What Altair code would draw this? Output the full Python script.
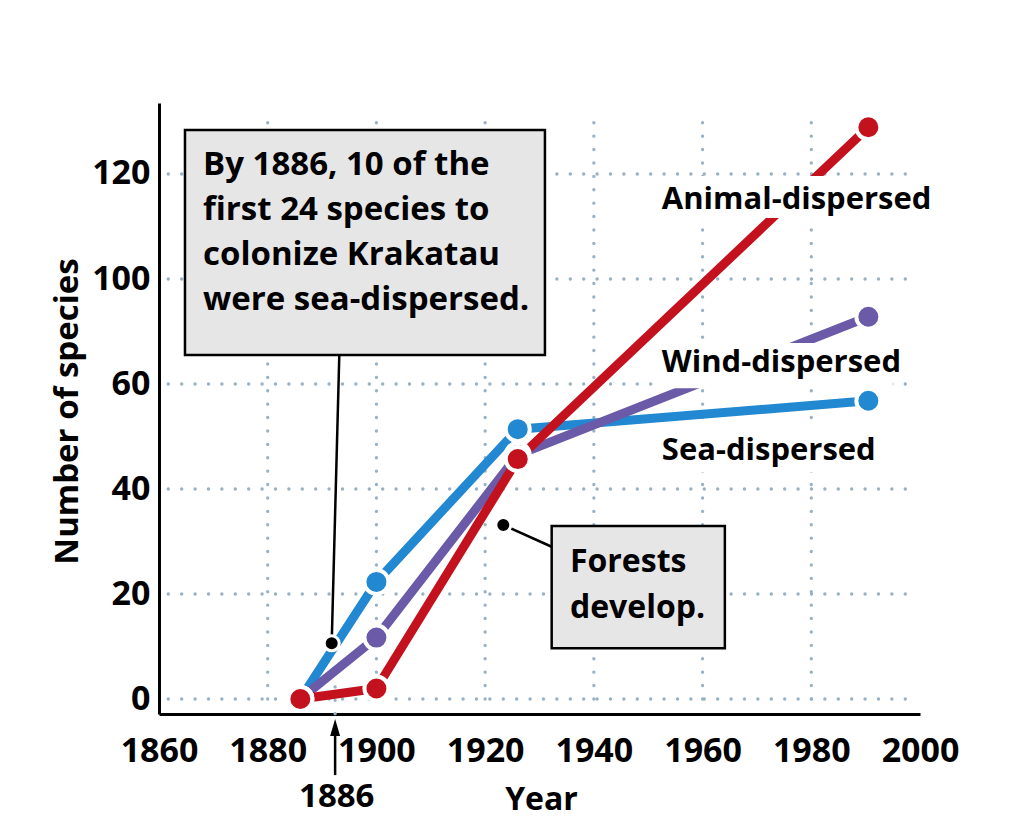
import altair as alt
import pandas as pd

# ---------------- data ----------------
years = [1886, 1900, 1926, 1990.5]
sea_dispersed = [0, 22.3, 51.4, 56.8]
wind_dispersed = [0, 11.7, 46.5, 85.6]
animal_dispersed = [0, 2.0, 45.7, 128.9]

series_names = ["Sea-dispersed", "Wind-dispersed", "Animal-dispersed"]
series_values = [sea_dispersed, wind_dispersed, animal_dispersed]
series_colors = ["#2188d1", "#6a5aa8", "#c3121e"]

x_ticks = [1860, 1880, 1900, 1920, 1940, 1960, 1980, 2000]
y_ticks = [0, 20, 40, 60, 100, 120]
grid_x = [1880, 1900, 1920, 1940, 1960, 1980]

box1_text = "By 1886, 10 of the\nfirst 24 species to\ncolonize Krakatau\nwere sea-dispersed."
box2_text = "Forests\ndevelop."
marker_label = "1886"

# ---------------- style ----------------
FONT = "Open Sans"
GRID = "#97b1c5"
W, H = 761, 611

rows = []
for name, vals in zip(series_names, series_values):
    for yr, v in zip(years, vals):
        rows.append({"x": yr, "y": v, "series": name})
df = pd.DataFrame(rows)

xscale = alt.Scale(domain=[1860, 2000], nice=False, zero=False)
yscale = alt.Scale(domain=[-2.857, 60, 100, 133.52], range=[H, 281, 176, 0],
                   nice=False, zero=False)

xaxis = alt.Axis(values=x_ticks, format="d", labelFont=FONT, labelFontSize=34,
                 labelFontWeight="bold", labelColor="black", labelPadding=47,
                 labelBaseline="alphabetic", ticks=False, tickSize=0,
                 domainColor="black", domainWidth=3, grid=False,
                 labelFlush=False, labelOverlap=False,
                 title="Year", titleFont=FONT, titleFontSize=32,
                 titleFontWeight="bold", titleColor="black",
                 titleX=382, titleY=95, titleAlign="center",
                 titleBaseline="alphabetic")
yaxis = alt.Axis(values=y_ticks, labelFont=FONT, labelFontSize=34,
                 labelFontWeight="bold", labelColor="black", labelPadding=9,
                 ticks=False, tickSize=0, domainColor="black", domainWidth=3,
                 grid=False, labelOverlap=False,
                 title="Number of species", titleFont=FONT, titleFontSize=33,
                 titleFontWeight="bold", titleColor="black",
                 titleX=-82, titleY=308, titleAngle=270, titleAlign="center",
                 titleBaseline="alphabetic")

def X():
    return alt.X("x:Q", scale=xscale, axis=xaxis)

def Y():
    return alt.Y("y:Q", scale=yscale, axis=yaxis)

dot_style = dict(strokeDash=[0.1, 13.3], strokeCap="round", strokeWidth=3.3, color=GRID)

# grid
hgrid = alt.Chart(pd.DataFrame({"y": y_ticks, "x": [1861.7] * len(y_ticks),
                                "x2": [1999.6] * len(y_ticks)})).mark_rule(**dot_style).encode(
    x=X(), x2="x2:Q", y=Y())
vgrid = alt.Chart(pd.DataFrame({"x": grid_x, "y": [0] * len(grid_x),
                                "y2": [131.6] * len(grid_x)})).mark_rule(**dot_style).encode(
    x=X(), y=Y(), y2="y2:Q")
tickext = alt.Chart(pd.DataFrame({"x": [1892.4], "y": [-2.8], "y2": [7.4]})).mark_rule(
    **dot_style).encode(x=X(), y=Y(), y2="y2:Q")

layers = [hgrid, vgrid, tickext]

for name, col in zip(series_names, series_colors):
    layers.append(alt.Chart(df).transform_filter(alt.datum.series == name).mark_line(
        color=col, strokeWidth=9, strokeJoin="round").encode(x=X(), y=Y()))
for name, col in zip(series_names, series_colors):
    layers.append(alt.Chart(df).transform_filter(alt.datum.series == name).mark_point(
        filled=True, shape="circle", size=576, fill=col, stroke="white",
        strokeWidth=4, opacity=1).encode(x=X(), y=Y()))

# white backgrounds behind series labels
label_bg = pd.DataFrame({"x": [1951.25, 1950.88, 1950.88], "x2": [2002.7, 1995.0, 1993.5],
                         "y": [119.6, 75.6, 51.6], "y2": [111.6, 59.2, 43.2]})
layers.append(alt.Chart(label_bg).mark_rect(color="white").encode(
    x=X(), x2="x2:Q", y=Y(), y2="y2:Q"))

labels = pd.DataFrame({"x": [1952.5] * 3, "y": [113.3, 64.7, 45.5],
                       "t": ["Animal-dispersed", "Wind-dispersed", "Sea-dispersed"]})
layers.append(alt.Chart(labels).mark_text(
    align="left", baseline="alphabetic", font=FONT, fontSize=31, fontWeight="bold",
    color="black").encode(x=X(), y=Y(), text="t:N"))

# annotation boxes
boxes = pd.DataFrame({"x": [1864.78, 1932.24], "x2": [1931.0, 1964.1],
                      "y": [128.38, 32.95], "y2": [71.05, 9.66]})
layers.append(alt.Chart(boxes).mark_rect(fill="#e6e6e6", stroke="black",
                                         strokeWidth=2.5).encode(
    x=X(), x2="x2:Q", y=Y(), y2="y2:Q"))

box1 = pd.DataFrame({"x": [1868.1], "y": [119.8], "t": [box1_text]})
layers.append(alt.Chart(box1).mark_text(
    align="left", baseline="alphabetic", font=FONT, fontSize=33, fontWeight="bold",
    color="black", lineBreak="\n", lineHeight=45).encode(x=X(), y=Y(), text="t:N"))
box2 = pd.DataFrame({"x": [1935.6], "y": [24.25], "t": [box2_text]})
layers.append(alt.Chart(box2).mark_text(
    align="left", baseline="alphabetic", font=FONT, fontSize=32, fontWeight="bold",
    color="black", lineBreak="\n", lineHeight=46).encode(x=X(), y=Y(), text="t:N"))

# connectors
conn = pd.DataFrame({"x": [1893.17, 1932.24], "y": [71.05, 29.0],
                     "x2": [1891.77, 1923.34], "y2": [10.6, 33.14]})
layers.append(alt.Chart(conn).mark_rule(color="black", strokeWidth=2.5).encode(
    x=X(), y=Y(), x2="x2:Q", y2="y2:Q"))
cdots = pd.DataFrame({"x": [1891.77, 1923.34], "y": [10.6, 33.14]})
layers.append(alt.Chart(cdots).mark_point(filled=True, shape="circle", size=225,
                                          fill="black", stroke="white", strokeWidth=3,
                                          opacity=1).encode(x=X(), y=Y()))

# 1886 arrow below axis
arrow = pd.DataFrame({"x": [1892.4], "y": [-7.0], "y2": [-14.5]})
layers.append(alt.Chart(arrow).mark_rule(color="black", strokeWidth=2.5).encode(
    x=X(), y=Y(), y2="y2:Q"))
head = pd.DataFrame({"x": [1892.4], "y": [-5.7]})
layers.append(alt.Chart(head).mark_point(
    filled=True, shape="M0,-1L0.5,0.7L-0.5,0.7Z", size=400, fill="black",
    opacity=1, strokeWidth=0).encode(x=X(), y=Y()))
lab1886 = pd.DataFrame({"x": [1892.7], "y": [-20.6], "t": [marker_label]})
layers.append(alt.Chart(lab1886).mark_text(
    align="center", baseline="alphabetic", font=FONT, fontSize=33, fontWeight="bold",
    color="black").encode(x=X(), y=Y(), text="t:N"))

chart = alt.layer(*layers).properties(
    width=W, height=H,
    autosize=alt.AutoSizeParams(type="none"),
    padding={"left": 151, "top": 95, "right": 80, "bottom": 105},
    background="white",
).configure_view(strokeWidth=0)

chart.save("out.html", embed_options={"renderer": "svg", "actions": False})
